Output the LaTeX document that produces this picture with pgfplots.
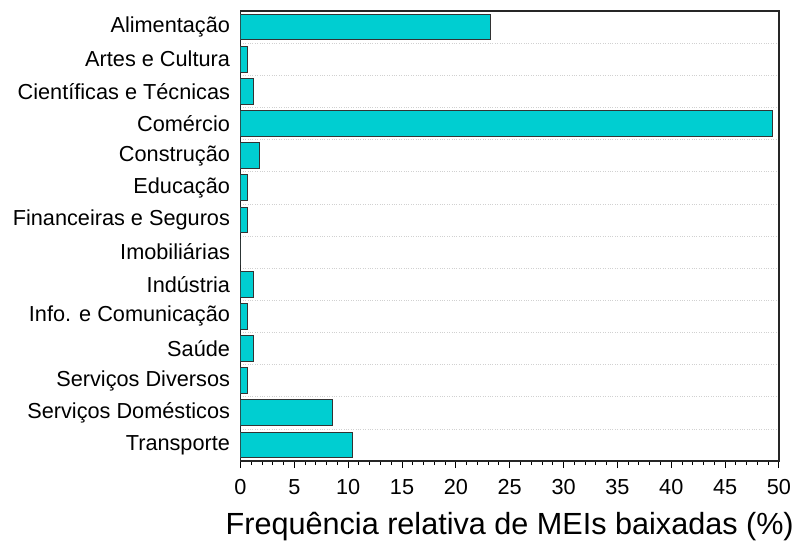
\documentclass[border=0pt]{standalone}
\usepackage{fontspec}
\setmainfont{Liberation Sans}
\usepackage{pgfplots}
\pgfplotsset{compat=1.18}
\definecolor{barc}{HTML}{00CED1}
\begin{document}
\begin{tikzpicture}
\begin{axis}[name=ax, scale only axis, width=538.5pt, height=450pt,
 xbar, xmin=0, xmax=50, ymin=-0.5, ymax=13.5, y dir=reverse,
 ytick={0,...,13},
 yticklabels={Alimentação,Artes e Cultura,Científicas e Técnicas,Comércio,Construção,Educação,Financeiras e Seguros,Imobiliárias,Indústria,Info. e Comunicação,Saúde,Serviços Diversos,Serviços Domésticos,Transporte},
 y tick style={draw=none},
 minor ytick={0.5,1.5,...,12.5}, yminorgrids, minor y grid style={black!18, dotted, line width=0.7pt},
 xtick={0,5,...,50}, minor x tick num=4, tick align=outside, major tick length=7pt, minor tick length=4pt,
 x tick style={black, line width=1pt}, xtick pos=bottom,
 tick label style={font=\fontsize{21.7}{25}\selectfont},
 xticklabel style={yshift=-8pt},
 xlabel={Frequência relativa de MEIs baixadas (\%)},
 xlabel style={font=\fontsize{30.6}{36}\selectfont, yshift=-10pt},
 bar width=0.8, axis line style={line width=1.3pt, black!85},
 /pgf/number format/assume math mode=true,
]
\addplot[fill=barc, draw=black!80, line width=0.9pt] coordinates {
(23.2,0) (0.6,1) (1.2,2) (49.4,3) (1.8,4) (0.6,5) (0.6,6) (0,7) (1.2,8) (0.6,9) (1.2,10) (0.6,11) (8.5,12) (10.4,13)};
\end{axis}
\path ([xshift=-240.5pt,yshift=-85pt]ax.south west) rectangle ([xshift=22pt,yshift=11pt]ax.north east);
\end{tikzpicture}
\end{document}
